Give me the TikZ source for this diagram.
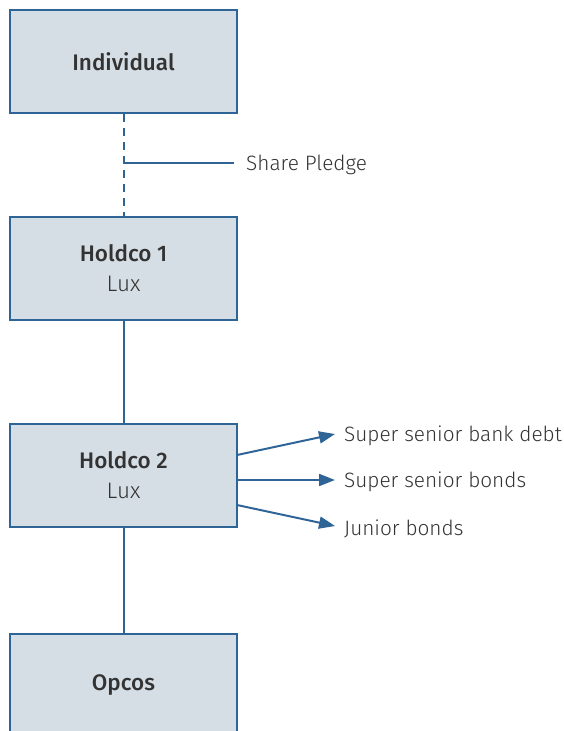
\documentclass[tikz,border=0pt]{standalone}
\usepackage{fontspec}
\setmainfont{Fira Sans Light}[BoldFont={Fira Sans Medium}]
\usetikzlibrary{arrows.meta}
\definecolor{boxfill}{HTML}{D6DEE5}
\definecolor{boxline}{HTML}{2F6496}
\definecolor{txt}{HTML}{333333}
\tikzset{
  entity/.style={draw=boxline, fill=boxfill, line width=2pt, minimum width=227pt, minimum height=103pt, inner sep=0pt, align=center, text=txt, font=\fontsize{22.5}{30}\selectfont},
  conn/.style={draw=boxline, line width=2pt},
  arr/.style={conn, -{Triangle[length=16pt,width=12pt]}},
  lbl/.style={anchor=west, text=txt, inner sep=0pt, font=\fontsize{20.8}{24}\selectfont}
}
\begin{document}
\begin{tikzpicture}[x=1pt,y=-1pt]
\useasboundingbox (0,0) rectangle (563,731);
\clip (0,0) rectangle (563,731);
\node[entity] (ind) at (123.5,61.5) {\textbf{Individual}};
\node[entity] (h1) at (123.5,268.5) {\textbf{Holdco 1}\\Lux};
\node[entity] (h2) at (123.5,475.5) {\textbf{Holdco 2}\\Lux};
\node[entity] (op) at (123.5,685) {\textbf{Opcos}};
\coordinate (sp) at (123.5,163);
\coordinate (spe) at (234,163);
\node[lbl] (splbl) at (246,165) {Share Pledge};
\draw[conn, dash pattern=on 8pt off 6pt] (ind.south) -- (h1.north);
\draw[conn] (sp) -- (spe);
\draw[conn] (h1.south) -- (h2.north);
\draw[conn] (h2.south) -- (op.north);
\node[lbl] (l1) at (344,436) {Super senior bank debt};
\node[lbl] (l2) at (344,482) {Super senior bonds};
\node[lbl] (l3) at (344,529) {Junior bonds};
\coordinate (t1) at (335,434);
\coordinate (t2) at (335,480);
\coordinate (t3) at (335,526);
\draw[arr] (237,455) -- (t1);
\draw[arr] (237,480) -- (t2);
\draw[arr] (237,505) -- (t3);
\end{tikzpicture}
\end{document}
